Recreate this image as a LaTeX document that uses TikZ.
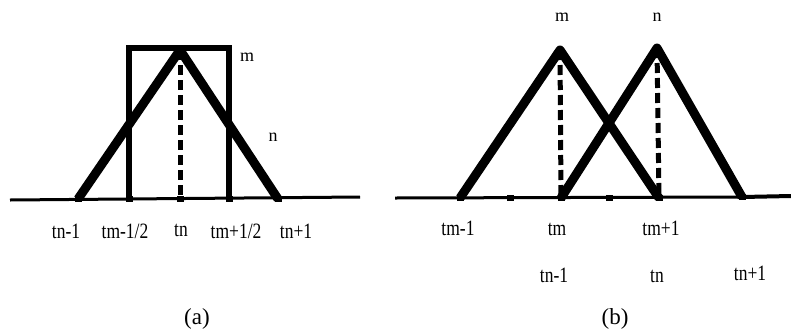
\documentclass[tikz,border=0pt]{standalone}
\usepackage{fontspec}
\setmainfont{Liberation Serif}
\begin{document}
\begin{tikzpicture}[x=1pt,y=-1pt,
  tri/.style={line width=9pt,line join=round},
  rectln/.style={line width=6pt,line join=miter},
  base/.style={line width=3pt},
  dsh/.style={line width=5pt,dash pattern=on 10pt off 5pt},
  tick/.style={fill=black,minimum width=7pt,minimum height=6pt,inner sep=0pt},
  lab/.style={anchor=base,inner sep=0pt,font=\fontsize{17.5}{20}\selectfont},
  mlab/.style={anchor=base,inner sep=0pt,font=\fontsize{18}{20}\selectfont},
  captionlab/.style={anchor=base,inner sep=0pt,font=\fontsize{23}{25}\selectfont}]
\useasboundingbox (0,0) rectangle (791,335);
% ---------- panel (a) ----------
\coordinate (aL) at (10,200);
\coordinate (aR) at (360,197);
\coordinate (a1) at (78,199);
\coordinate (a2) at (129,199);
\coordinate (a3) at (180,199);
\coordinate (a4) at (229,199);
\coordinate (a5) at (278,199);
\coordinate (aTop) at (180,50);
\coordinate (r1) at (129,48);
\coordinate (r2) at (229,48);
\draw[base] (aL) -- (aR);
\draw[rectln] (a2) -- (r1) -- (r2) -- (a4);
\draw[dsh] (aTop) -- (a3);
\draw[tri] (a1) -- (aTop) -- (a5);
\foreach \p in {a1,a2,a3,a4,a5} \node[tick] at (\p) {};
\node[mlab] (am) at (247,61) {m};
\node[mlab] (an) at (273,141) {n};
\node[lab] (la1) at (66,238) {\scalebox{1}[1.25]{tn-1}};
\node[lab] (la2) at (125,238) {\scalebox{1}[1.25]{tm-1/2}};
\node[lab] (la3) at (181,236) {\scalebox{1}[1.25]{tn}};
\node[lab] (la4) at (236,238) {\scalebox{1}[1.25]{tm+1/2}};
\node[lab] (la5) at (296,238) {\scalebox{1}[1.25]{tn+1}};
\node[captionlab] (capa) at (197,324) {(a)};
% ---------- panel (b) ----------
\coordinate (bL) at (395,198);
\coordinate (bR) at (791,196);
\coordinate (b1) at (460,198);
\coordinate (bq1) at (510,198);
\coordinate (b2) at (561,198);
\coordinate (bq2) at (609,198);
\coordinate (b3) at (659,198);
\coordinate (b4) at (742,197);
\coordinate (bT1) at (560,50);
\coordinate (bT2) at (657,48);
\draw[base] (bL) -- (b4);
\draw[line width=4pt] (b4) -- (bR);
\draw[dsh] (bT1) -- (b2);
\draw[dsh] (bT2) -- (b3);
\draw[tri] (b1) -- (bT1) -- (b3);
\draw[tri] (b2) -- (bT2) -- (b4);
\foreach \p in {b1,bq1,b2,bq2,b3,b4} \node[tick] at (\p) {};
\node[mlab] (bm) at (562,21) {m};
\node[mlab] (bn) at (657,21) {n};
\node[lab] (lb1) at (458,235) {\scalebox{1}[1.25]{tm-1}};
\node[lab] (lb2) at (557,235) {\scalebox{1}[1.25]{tm}};
\node[lab] (lb3) at (661,235) {\scalebox{1}[1.25]{tm+1}};
\node[lab] (lb4) at (554,282) {\scalebox{1}[1.25]{tn-1}};
\node[lab] (lb5) at (657,282) {\scalebox{1}[1.25]{tn}};
\node[lab] (lb6) at (750,280) {\scalebox{1}[1.25]{tn+1}};
\node[captionlab] (capb) at (615,324) {(b)};
\end{tikzpicture}
\end{document}
